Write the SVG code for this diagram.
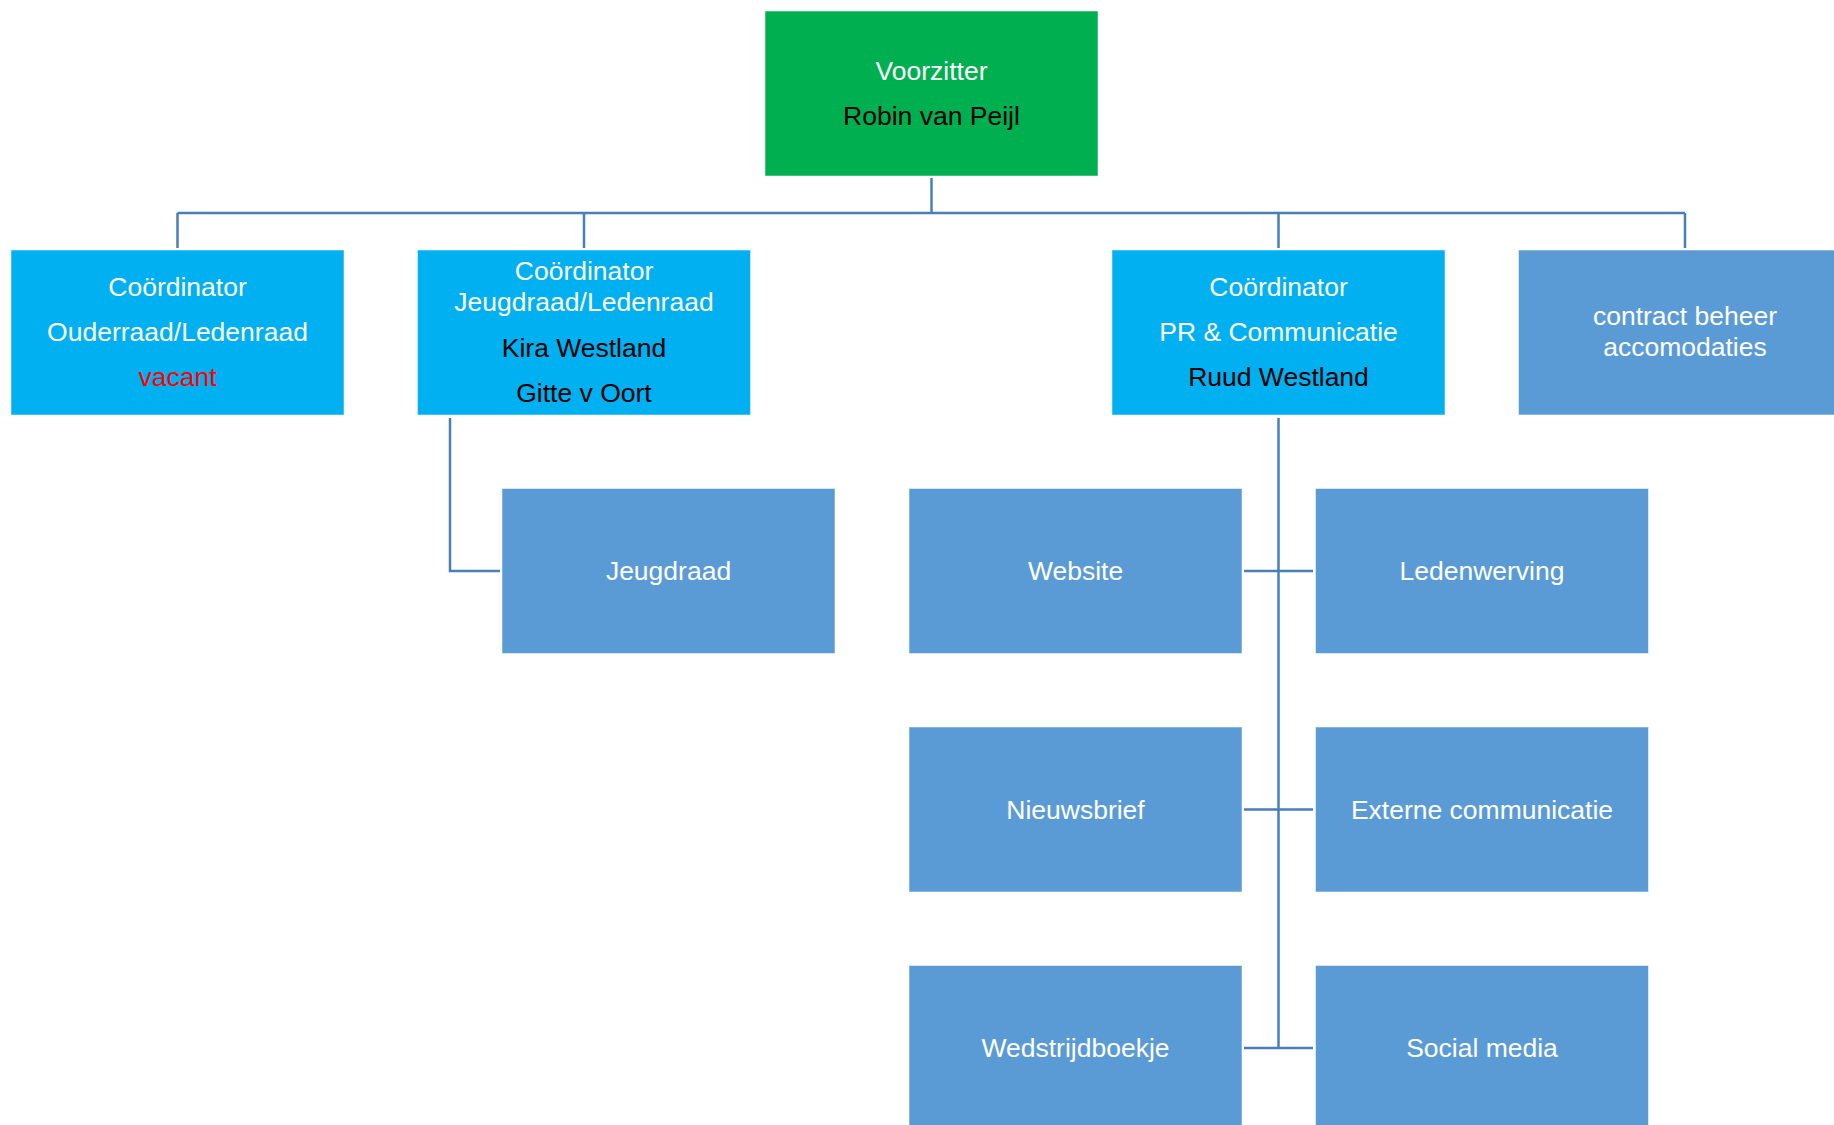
<svg xmlns="http://www.w3.org/2000/svg" width="1834" height="1125" viewBox="0 0 1834 1125">
<style>
.box{stroke:#ffffff;stroke-opacity:0.5;stroke-width:1}
.green{fill:#00B050}
.cyan{fill:#00B0F0}
.blue{fill:#5B9BD5}
text{font-family:"Liberation Sans",Arial,sans-serif;font-size:26.5px;text-anchor:middle}
.w{fill:#ffffff}
.k{fill:#000000}
.r{fill:#FF0000}
.conn{fill:none;stroke:#4A7EBB;stroke-width:2.5}
</style>
<rect width="1834" height="1125" fill="#ffffff"/>
<g id="connectors" class="conn">
<path d="M931.5 178 V213"/>
<path d="M177.5 213 H1685"/>
<path d="M177.5 213 V248 M584 213 V248 M1278.5 213 V248 M1685 213 V248"/>
<path d="M450 418 V571 H500"/>
<path d="M1278.5 418 V1048"/>
<path d="M1244 571 H1313 M1244 809.5 H1313 M1244 1048 H1313"/>
</g>
<g id="voorzitter">
<rect class="box green" x="765" y="11" width="333" height="165"/>
<text class="w" x="931.5" y="80">Voorzitter</text>
<text class="k" x="931.5" y="125">Robin van Peijl</text>
</g>
<g id="coord-ouderraad">
<rect class="box cyan" x="11" y="250" width="333" height="165"/>
<text class="w" x="177.5" y="296">Coördinator</text>
<text class="w" x="177.5" y="341">Ouderraad/Ledenraad</text>
<text class="r" x="177.5" y="386">vacant</text>
</g>
<g id="coord-jeugdraad">
<rect class="box cyan" x="417.5" y="250" width="333" height="165"/>
<text class="w" x="584" y="280">Coördinator</text>
<text class="w" x="584" y="311">Jeugdraad/Ledenraad</text>
<text class="k" x="584" y="357">Kira Westland</text>
<text class="k" x="584" y="402">Gitte v Oort</text>
</g>
<g id="coord-pr">
<rect class="box cyan" x="1112" y="250" width="333" height="165"/>
<text class="w" x="1278.5" y="296">Coördinator</text>
<text class="w" x="1278.5" y="341">PR &amp; Communicatie</text>
<text class="k" x="1278.5" y="386">Ruud Westland</text>
</g>
<g id="contract-beheer">
<rect class="box blue" x="1518.5" y="250" width="333" height="165"/>
<text class="w" x="1685" y="325">contract beheer</text>
<text class="w" x="1685" y="356">accomodaties</text>
</g>
<g id="jeugdraad">
<rect class="box blue" x="502" y="488.5" width="333" height="165"/>
<text class="w" x="668.5" y="580">Jeugdraad</text>
</g>
<g id="website">
<rect class="box blue" x="909" y="488.5" width="333" height="165"/>
<text class="w" x="1075.5" y="580">Website</text>
</g>
<g id="ledenwerving">
<rect class="box blue" x="1315.5" y="488.5" width="333" height="165"/>
<text class="w" x="1482" y="580">Ledenwerving</text>
</g>
<g id="nieuwsbrief">
<rect class="box blue" x="909" y="727" width="333" height="165"/>
<text class="w" x="1075.5" y="818.5">Nieuwsbrief</text>
</g>
<g id="externe-communicatie">
<rect class="box blue" x="1315.5" y="727" width="333" height="165"/>
<text class="w" x="1482" y="818.5">Externe communicatie</text>
</g>
<g id="wedstrijdboekje">
<rect class="box blue" x="909" y="965.5" width="333" height="165"/>
<text class="w" x="1075.5" y="1057">Wedstrijdboekje</text>
</g>
<g id="social-media">
<rect class="box blue" x="1315.5" y="965.5" width="333" height="165"/>
<text class="w" x="1482" y="1057">Social media</text>
</g>
</svg>
